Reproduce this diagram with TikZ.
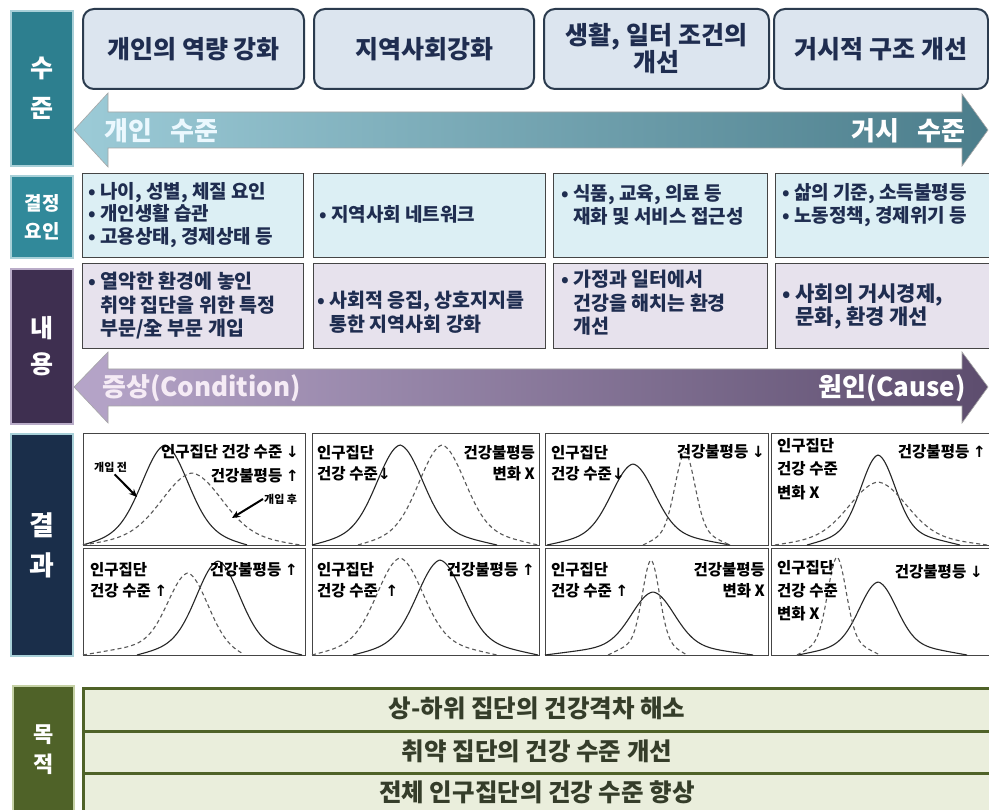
\documentclass[tikz,border=0pt]{standalone}
\usepackage{fontspec}
\setmainfont{Noto Sans CJK KR}
\newfontfamily\arrfont{DejaVu Sans}
\usetikzlibrary{arrows.meta}
\definecolor{cTeal}{HTML}{2D7F8F}
\definecolor{cTealB}{HTML}{A8D0D8}
\definecolor{cTeal2}{HTML}{31899A}
\definecolor{cPurp}{HTML}{3E2F50}
\definecolor{cPurpB}{HTML}{B9ACC8}
\definecolor{cNavyL}{HTML}{1A2E4A}
\definecolor{cOlive}{HTML}{4F6228}
\definecolor{cOliveB}{HTML}{C5D1A5}
\definecolor{cHdr}{HTML}{DCE5EF}
\definecolor{cHdrB}{HTML}{2B3B4E}
\definecolor{cDet}{HTML}{DCEFF4}
\definecolor{cCon}{HTML}{E7E2ED}
\definecolor{cBoxB}{HTML}{454545}
\definecolor{cNavy}{HTML}{1F2D50}
\definecolor{cGoal}{HTML}{EAEEDC}
\definecolor{cGoalT}{HTML}{353D2A}
\definecolor{cArrL}{HTML}{9CCBD7}
\definecolor{cArrR}{HTML}{4B7D8B}
\definecolor{cArr2L}{HTML}{B6A5C9}
\definecolor{cArr2R}{HTML}{5D4D6E}
\newcommand\bellc[7]{%
  \pgfmathsetmacro\bellL{#2-#3}%
  \pgfmathsetmacro\bellR{#2+#4}%
  \draw[#1] plot[domain=\bellL:\bellR, samples=110, smooth]
    (\x, {#7-(#7-#6)*(0.78*exp(-((\x-#2)/#5)*((\x-#2)/#5))+0.22*(1-abs(\x-#2)/((\x<#2)*#3+(\x>=#2)*#4)))});%
}
\newcommand\ua{{\arrfont\bfseries ↑}}
\newcommand\da{{\arrfont\bfseries ↓}}
\begin{document}
\begin{tikzpicture}[x=1pt,y=-1pt,
  side/.style={rectangle, anchor=north west, inner sep=0pt, text=white, align=center, line width=2pt},
  hdr/.style={rectangle, rounded corners=11pt, draw=cHdrB, fill=cHdr, line width=2pt, anchor=north west, inner sep=0pt,
     text=cNavy, font=\fontsize{25}{27}\selectfont\bfseries, align=center},
  detbox/.style={rectangle, draw=cBoxB, fill=cDet, line width=1.2pt, anchor=north west, inner sep=0pt},
  conbox/.style={rectangle, draw=cBoxB, fill=cCon, line width=1.2pt, anchor=north west, inner sep=0pt},
  boxtxt/.style={text=cNavy, font=\fontsize{19}{22.5}\selectfont\bfseries, align=left, anchor=west, inner sep=0pt},
  contxt/.style={text=cNavy, font=\fontsize{19.5}{23.5}\selectfont\bfseries, align=left, anchor=west, inner sep=0pt},
  panel/.style={rectangle, draw=cBoxB, fill=white, line width=1.3pt, anchor=north west, inner sep=0pt},
  rtxt/.style={text=black, font=\fontsize{15.5}{21}\selectfont\bfseries, inner sep=0pt},
  smalltxt/.style={text=black, font=\fontsize{11}{13}\selectfont\bfseries, inner sep=0pt},
  solidcurve/.style={line width=1.1pt, draw=black!85},
  dashcurve/.style={line width=1.1pt, draw=black!65, dash pattern=on 4pt off 3pt},
  ptr/.style={-{Stealth[length=8pt,width=7pt]}, line width=2pt, black},
  goal/.style={rectangle, draw=cOlive, fill=cGoal, line width=3pt, anchor=north west, inner sep=0pt},
  goaltxt/.style={text=cGoalT, font=\fontsize{24.5}{26}\selectfont\bfseries, inner sep=0pt},
  arrtxt/.style={font=\fontsize{26}{28}\selectfont\bfseries, inner sep=0pt}
]
\useasboundingbox (0,0) rectangle (989,810);
\fill[white] (0,0) rectangle (989,810);

% ---------- side labels ----------
\node[side, fill=cTeal, draw=cTealB, minimum width=62pt, minimum height=155pt, font=\fontsize{25}{40}\selectfont\bfseries] (L1) at (10,10) {수\\준};
\node[side, fill=cTeal2, draw=cTealB, minimum width=62pt, minimum height=82pt, font=\fontsize{19}{28}\selectfont\bfseries] (L2) at (10,175) {결정\\요인};
\node[side, fill=cPurp, draw=cPurpB, minimum width=62pt, minimum height=155pt, font=\fontsize{25}{36}\selectfont\bfseries] (L3) at (10,268) {내\\용};
\node[side, fill=cNavyL, draw=cTealB, minimum width=62pt, minimum height=222pt, font=\fontsize{27}{40}\selectfont\bfseries] (L4) at (10,433) {결\\과};
\node[side, fill=cOlive, draw=cOliveB, minimum width=61pt, minimum height=127pt, font=\fontsize{22}{30}\selectfont\bfseries] (L5) at (12,685) {목\\적};

% ---------- header boxes ----------
\node[hdr, minimum width=221pt, minimum height=80pt] (h1) at (82,8) {개인의 역량 강화};
\node[hdr, minimum width=220pt, minimum height=80pt] (h2) at (313,8) {지역사회강화};
\node[hdr, minimum width=225pt, minimum height=80pt] (h3) at (543,8) {생활, 일터 조건의\\개선};
\node[hdr, minimum width=214pt, minimum height=80pt] (h4) at (773,8) {거시적 구조 개선};

% ---------- level arrow ----------
\shade[left color=cArrL, right color=cArrR, draw=gray!70, line width=0.6pt]
  (74,130) -- (108,93) -- (108,112) -- (962,112) -- (962,94) -- (988,130) -- (962,166) -- (962,148) -- (108,148) -- (108,167) -- cycle;
\node[arrtxt, anchor=west, text=cyan!8!white] (a1l) at (104,131) {개인\hspace{0.7em}수준};
\node[arrtxt, anchor=east, text=white] (a1r) at (966,131) {거시\hspace{0.7em}수준};

% ---------- determinants ----------
\node[detbox, minimum width=221pt, minimum height=84pt] (d1) at (82,173) {};
\node[detbox, minimum width=232pt, minimum height=84pt] (d2) at (313,173) {};
\node[detbox, minimum width=214pt, minimum height=84pt] (d3) at (553,173) {};
\node[detbox, minimum width=220pt, minimum height=84pt] (d4) at (775,173) {};
\node[boxtxt] (d1t) at (88,215) {• 나이, 성별, 체질 요인\\• 개인생활 습관\\• 고용상태, 경제상태 등};
\node[boxtxt] (d2t) at (319,214) {• 지역사회 네트워크};
\node[boxtxt] (d3t) at (561,205) {• 식품, 교육, 의료 등\\\hphantom{• }재화 및 서비스 접근성};
\node[boxtxt] (d4t) at (782,205) {• 삶의 기준, 소득불평등\\• 노동정책, 경제위기 등};

% ---------- contents ----------
\node[conbox, minimum width=221pt, minimum height=85pt] (c1) at (82,263) {};
\node[conbox, minimum width=232pt, minimum height=85pt] (c2) at (313,263) {};
\node[conbox, minimum width=214pt, minimum height=85pt] (c3) at (553,263) {};
\node[conbox, minimum width=220pt, minimum height=85pt] (c4) at (775,263) {};
\node[contxt] (c1t) at (88,306) {• 열악한 환경에 놓인\\\hphantom{• }취약 집단을 위한 특정\\\hphantom{• }부문/全 부문 개입};
\node[contxt] (c2t) at (317,312) {• 사회적 응집, 상호지지를\\\hphantom{• }통한 지역사회 강화};
\node[contxt] (c3t) at (561,303) {• 가정과 일터에서\\\hphantom{• }건강을 해치는 환경\\\hphantom{• }개선};
\node[contxt, font=\fontsize{21}{23}\selectfont\bfseries] (c4t) at (782,307) {• 사회의 거시경제,\\\hphantom{• }문화, 환경 개선};

% ---------- content arrow ----------
\shade[left color=cArr2L, right color=cArr2R, draw=gray!70, line width=0.6pt]
  (74,387) -- (108,352) -- (108,369) -- (962,369) -- (962,352) -- (988,387) -- (962,423) -- (962,406) -- (108,406) -- (108,423) -- cycle;
\node[arrtxt, anchor=west, text=white!92!violet] (a2l) at (102,388) {증상(Condition)};
\node[arrtxt, anchor=east, text=white] (a2r) at (966,388) {원인(Cause)};

% ---------- result panels ----------
\node[panel, minimum width=222pt, minimum height=112pt] (pA) at (83,433) {};
\node[panel, minimum width=222pt, minimum height=107pt] (pB) at (83,548) {};
\node[panel, minimum width=227pt, minimum height=112pt] (pC) at (312,433) {};
\node[panel, minimum width=227pt, minimum height=107pt] (pD) at (312,548) {};
\node[panel, minimum width=223pt, minimum height=112pt] (pE) at (545,433) {};
\node[panel, minimum width=223pt, minimum height=107pt] (pF) at (545,548) {};
\node[panel, minimum width=224pt, minimum height=112pt] (pG) at (771,433) {};
\node[panel, minimum width=224pt, minimum height=107pt] (pH) at (771,548) {};

% curves: style, centre, left tail, right tail, width, peak y, base y
\bellc{solidcurve}{165}{82}{82}{32}{445}{545}
\bellc{dashcurve}{192}{109}{108}{42}{473}{545}
\bellc{solidcurve}{218}{81}{84}{30}{561}{655}
\bellc{dashcurve}{188}{105}{55}{28}{573}{655}
\bellc{solidcurve}{400}{88}{97}{32}{445}{545}
\bellc{dashcurve}{442}{84}{96}{32}{445}{545}
\bellc{solidcurve}{440}{87}{98}{32}{560}{655}
\bellc{dashcurve}{400}{88}{97}{32}{558}{655}
\bellc{solidcurve}{633}{86}{97}{30}{464}{545}
\bellc{dashcurve}{685}{42}{45}{14}{452}{545}
\bellc{solidcurve}{653}{108}{100}{30}{592}{655}
\bellc{dashcurve}{651}{43}{36}{12}{560}{655}
\bellc{solidcurve}{878}{71}{82}{24}{455}{545}
\bellc{dashcurve}{878}{103}{109}{40}{482}{545}
\bellc{solidcurve}{878}{80}{89}{26}{582}{655}
\bellc{dashcurve}{837}{40}{43}{13}{557}{655}

% panel labels
\node[rtxt, anchor=east] (tA1) at (299,452) {인구집단 건강 수준 \da};
\node[rtxt, anchor=east] (tA2) at (299,476) {건강불평등 \ua};
\node[smalltxt, anchor=west] (pre) at (94,467) {개입 전};
\node[smalltxt, anchor=west] (post) at (264,499) {개입 후};
\coordinate (preOn) at (137,497);
\coordinate (postOn) at (232,518);
\draw[ptr] ([xshift=4pt,yshift=-2pt]pre.south) -- (preOn);
\draw[ptr] ([xshift=-1pt]post.west) -- (postOn);

\node[rtxt, anchor=west, align=left] (tB1) at (90,580) {인구집단\\건강 수준 \ua};
\node[rtxt, anchor=east] (tB2) at (298,570) {건강불평등 \ua};

\node[rtxt, anchor=west, align=left] (tC1) at (317,463) {인구집단\\건강 수준\da};
\node[rtxt, anchor=east, align=right] (tC2) at (535,463) {건강불평등\\변화 X};

\node[rtxt, anchor=west, align=left] (tD1) at (317,580) {인구집단\\건강 수준 \hspace{4pt}\ua};
\node[rtxt, anchor=east] (tD2) at (535,570) {건강불평등 \ua};

\node[rtxt, anchor=west, align=left] (tE1) at (551,463) {인구집단\\건강 수준\da};
\node[rtxt, anchor=east] (tE2) at (765,452) {건강불평등 \da};

\node[rtxt, anchor=west, align=left] (tF1) at (551,580) {인구집단\\건강 수준 \ua};
\node[rtxt, anchor=east, align=right] (tF2) at (765,580) {건강불평등\\변화 X};

\node[rtxt, anchor=west, align=left, font=\fontsize{15.5}{23.5}\selectfont\bfseries] (tG1) at (777,469) {인구집단\\건강 수준\\변화 X};
\node[rtxt, anchor=east] (tG2) at (986,452) {건강불평등 \ua};

\node[rtxt, anchor=west, align=left, font=\fontsize{15.5}{23}\selectfont\bfseries] (tH1) at (777,591) {인구집단\\건강 수준\\변화 X};
\node[rtxt, anchor=east] (tH2) at (983,572) {건강불평등 \da};

% ---------- goals ----------
\node[goal, minimum width=913pt, minimum height=43pt] (g1) at (82,687) {};
\node[goal, minimum width=913pt, minimum height=42pt] (g2) at (82,730) {};
\node[goal, minimum width=913pt, minimum height=42pt] (g3) at (82,772) {};
\node[goaltxt] (g1t) at (537,708) {상-하위 집단의 건강격차 해소};
\node[goaltxt] (g2t) at (537,751) {취약 집단의 건강 수준 개선};
\node[goaltxt] (g3t) at (537,792) {전체 인구집단의 건강 수준 향상};
\end{tikzpicture}
\end{document}
